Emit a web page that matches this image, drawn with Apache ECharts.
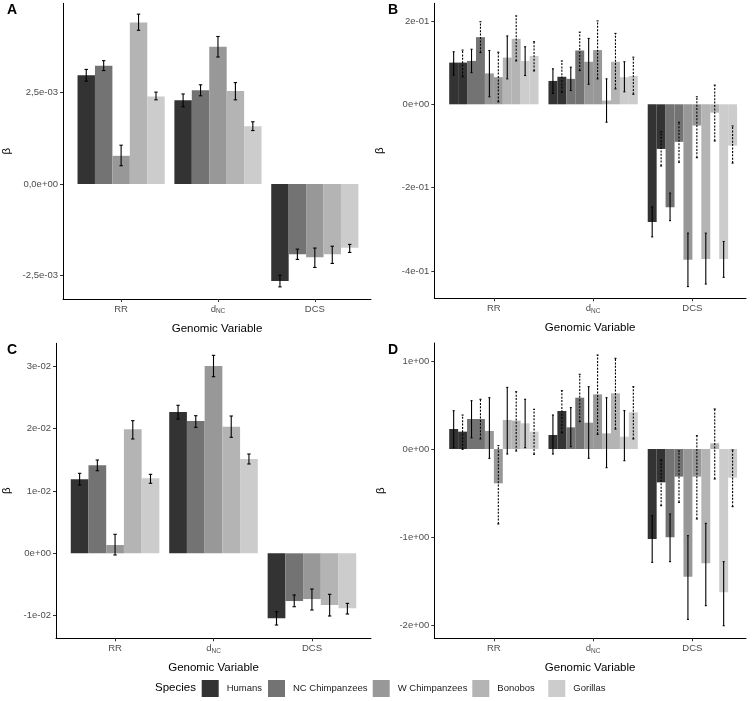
<!DOCTYPE html>
<html><head><meta charset="utf-8">
<script src="https://cdn.jsdelivr.net/npm/echarts@6/dist/echarts.min.js"></script>
<style>html,body{margin:0;padding:0;background:#fff}#c{width:755px;height:701px}</style>
</head><body><div id="c"></div>
<script>
// ---------- data ----------
const categories = ['RR', 'dNC', 'DCS'];
const species = ['Humans', 'NC Chimpanzees', 'W Chimpanzees', 'Bonobos', 'Gorillas'];
const colors = ['#333333', '#737373', '#989898', '#B4B4B4', '#CCCCCC'];

// Panel A  (per species: [RR, dNC, DCS])
const aValue = [[2.97e-3, 2.29e-3, -2.65e-3],[3.23e-3, 2.56e-3, -1.92e-3],[0.77e-3, 3.75e-3, -2.00e-3],[4.41e-3, 2.54e-3, -1.92e-3],[2.39e-3, 1.58e-3, -1.74e-3]];
const aLow   = [[2.81e-3, 2.11e-3, -2.81e-3],[3.10e-3, 2.41e-3, -2.06e-3],[0.50e-3, 3.47e-3, -2.28e-3],[4.20e-3, 2.30e-3, -2.17e-3],[2.30e-3, 1.46e-3, -1.87e-3]];
const aHigh  = [[3.13e-3, 2.46e-3, -2.49e-3],[3.37e-3, 2.71e-3, -1.78e-3],[1.06e-3, 4.03e-3, -1.75e-3],[4.64e-3, 2.77e-3, -1.70e-3],[2.51e-3, 1.70e-3, -1.65e-3]];

// Panel C
const cValue = [[0.01188, 0.02268, -0.01043],[0.01412, 0.02124, -0.00766],[0.00133, 0.03006, -0.00734],[0.0199, 0.02033, -0.0083],[0.01204, 0.01514, -0.00883]];
const cLow   = [[0.01096, 0.02156, -0.01151],[0.01326, 0.02022, -0.00857],[-0.00027, 0.02835, -0.0091],[0.01835, 0.01862, -0.01006],[0.01124, 0.01434, -0.00974]];
const cHigh  = [[0.01284, 0.02376, -0.00937],[0.01498, 0.02209, -0.00669],[0.00305, 0.03178, -0.00573],[0.02129, 0.02204, -0.00658],[0.01268, 0.01594, -0.00803]];

// Panel B  (solid = first estimate, dotted = second estimate)
const bSolid     = [[0.100, 0.056, -0.282],[0.104, 0.061, -0.247],[0.074, 0.102, -0.373],[0.112, 0.009, -0.371],[0.104, 0.065, -0.371]];
const bSolidLow  = [[0.070, 0.026, -0.318],[0.076, 0.033, -0.279],[0.018, 0.048, -0.437],[0.061, -0.043, -0.431],[0.069, 0.030, -0.415]];
const bSolidHigh = [[0.126, 0.085, -0.246],[0.132, 0.089, -0.213],[0.129, 0.158, -0.309],[0.164, 0.061, -0.309],[0.138, 0.102, -0.329]];
const bDot       = [[0.100, 0.066, -0.107],[0.161, 0.129, -0.090],[0.065, 0.130, -0.051],[0.157, 0.102, -0.020],[0.116, 0.068, -0.099]];
const bDotLow    = [[0.066, 0.029, -0.148],[0.124, 0.081, -0.139],[0.006, 0.061, -0.128],[0.104, 0.037, -0.088],[0.080, 0.024, -0.141]];
const bDotHigh   = [[0.130, 0.104, -0.066],[0.198, 0.173, -0.043],[0.125, 0.200, 0.018],[0.212, 0.170, 0.046],[0.150, 0.113, -0.052]];

// Panel D
const dSolid     = [[0.227, 0.159, -1.023],[0.341, 0.246, -1.004],[0.205, 0.299, -1.451],[0.330, 0.178, -1.299],[0.292, 0.140, -1.629]];
const dSolidLow  = [[0.015, -0.057, -1.288],[0.128, 0.026, -1.280],[-0.106, -0.106, -1.936],[-0.057, -0.212, -1.780],[0.015, -0.133, -2.008]];
const dSolidHigh = [[0.435, 0.386, -0.758],[0.549, 0.470, -0.739],[0.583, 0.708, -0.985],[0.700, 0.583, -0.845],[0.565, 0.436, -1.280]];
const dDot       = [[0.197, 0.432, -0.379],[0.341, 0.583, -0.314],[-0.390, 0.621, -0.314],[0.322, 0.633, 0.064],[0.197, 0.417, -0.326]];
const dDotLow    = [[-0.004, 0.185, -0.644],[0.114, 0.311, -0.606],[-0.852, 0.167, -0.795],[-0.023, 0.227, -0.341],[-0.060, 0.114, -0.655]];
const dDotHigh   = [[0.386, 0.663, -0.125],[0.565, 0.849, -0.023],[0.038, 1.068, 0.152],[0.651, 1.030, 0.455],[0.451, 0.708, -0.011]];

// tick values / labels
const aTicks = [-2.5e-3, 0, 2.5e-3];
const aTickLabels = ['-2,5e-03', '0,0e+00', '2,5e-03'];
const bTicks = [-0.4, -0.2, 0, 0.2];
const bTickLabels = ['-4e-01', '-2e-01', '0e+00', '2e-01'];
const cTicks = [-0.01, 0, 0.01, 0.02, 0.03];
const cTickLabels = ['-1e-02', '0e+00', '1e-02', '2e-02', '3e-02'];
const dTicks = [-2, -1, 0, 1];
const dTickLabels = ['-2e+00', '-1e+00', '0e+00', '1e+00'];
const panelLetters = ['A', 'B', 'C', 'D'];

// ---------- layout ----------
const FONT = 'Liberation Sans, Arial, sans-serif';
const SLOT = 0.18; // dodge width 0.9 / 5
const panels = [
  {left: 61.7, top: 3.3, right: 371, bottom: 299, xmin: 0.4, xmax: 3.58, ymin: -3.142e-3, ymax: 4.937e-3, ticks: aTicks, labels: aTickLabels, nameGap: 50, letterX: 7, letterY: 3},
  {left: 434.3, top: 3.3, right: 746, bottom: 298.3, xmin: 0.4, xmax: 3.54, ymin: -0.4652, ymax: 0.2422, ticks: bTicks, labels: bTickLabels, nameGap: 48, letterX: 388, letterY: 3},
  {left: 53.3, top: 343.3, right: 371, bottom: 638.3, xmin: 0.4, xmax: 3.6, ymin: -0.01364, ymax: 0.03371, ticks: cTicks, labels: cTickLabels, nameGap: 43, letterX: 7, letterY: 343},
  {left: 434.3, top: 343, right: 746, bottom: 638.3, xmin: 0.4, xmax: 3.54, ymin: -2.151, ymax: 1.2045, ticks: dTicks, labels: dTickLabels, nameGap: 47, letterX: 388, letterY: 343}
];
const legendLefts = [201.7, 268, 372.7, 472.3, 548.3];

const grids = [], xAxes = [], yAxes = [], series = [], graphics = [];
const xLabelMap = {1: '{a|RR}', 2: '{a|d}{s|NC}', 3: '{a|DCS}'};

panels.forEach((p, i) => {
  grids.push({left: p.left, top: p.top, width: p.right - p.left, height: p.bottom - p.top, containLabel: false});
  xAxes.push({
    type: 'value', gridIndex: i, min: p.xmin, max: p.xmax,
    splitLine: {show: false},
    axisLine: {show: true, onZero: false, lineStyle: {color: '#000', width: 1}},
    axisTick: {show: true, customValues: [1, 2, 3], length: 3, lineStyle: {color: '#333'}},
    axisLabel: {customValues: [1, 2, 3], margin: 4, formatter: v => xLabelMap[Math.round(v)] || '',
      rich: {a: {fontFamily: FONT, fontSize: 9.5, color: '#4D4D4D', lineHeight: 12},
             s: {fontFamily: FONT, fontSize: 6.5, color: '#4D4D4D', lineHeight: 9, verticalAlign: 'bottom'}}},
    name: 'Genomic Variable', nameLocation: 'middle', nameGap: 24,
    nameTextStyle: {fontFamily: FONT, fontSize: 11.5, color: '#000'}
  });
  yAxes.push({
    type: 'value', gridIndex: i, min: p.ymin, max: p.ymax,
    splitLine: {show: false},
    axisLine: {show: true, onZero: false, lineStyle: {color: '#000', width: 1}},
    axisTick: {show: true, customValues: p.ticks, length: 3, lineStyle: {color: '#333'}},
    axisLabel: {customValues: p.ticks, margin: 5, fontFamily: FONT, fontSize: 9.5, color: '#4D4D4D',
      formatter: v => { const k = p.ticks.findIndex(t => Math.abs(t - v) < 1e-9); return k >= 0 ? p.labels[k] : ''; }},
    name: 'β', nameLocation: 'middle', nameGap: p.nameGap, nameRotate: 90,
    nameTextStyle: {fontFamily: FONT, fontSize: 11.5, color: '#000'}
  });
  graphics.push({type: 'text', left: p.letterX, top: p.letterY, style: {text: panelLetters[i], font: 'bold 14px ' + FONT, fill: '#000'}});
});

function rectBetween(api, x0, x1, v) {
  const a = api.coord([x0, 0]);
  const b = api.coord([x1, v]);
  return {type: 'rect', shape: {x: a[0], y: Math.min(a[1], b[1]), width: b[0] - a[0], height: Math.abs(b[1] - a[1])}};
}

// single bars (panels A, C)
function singleBars(gi, values) {
  species.forEach((name, s) => {
    series.push({
      type: 'custom', name: name, xAxisIndex: gi, yAxisIndex: gi, z: 2,
      itemStyle: {color: colors[s]},
      data: categories.map((c, k) => [k + 1, values[s][k]]),
      renderItem: (params, api) => {
        const x = api.value(0) + (s - 2) * SLOT;
        const r = rectBetween(api, x - SLOT / 2, x + SLOT / 2, api.value(1));
        r.style = {fill: colors[s]};
        return r;
      }
    });
  });
}
// split bars (panels B, D)
function splitBars(gi, v1, v2) {
  species.forEach((name, s) => {
    series.push({
      type: 'custom', name: name, xAxisIndex: gi, yAxisIndex: gi, z: 2,
      itemStyle: {color: colors[s]},
      data: categories.map((c, k) => [k + 1, v1[s][k], v2[s][k]]),
      renderItem: (params, api) => {
        const x = api.value(0) + (s - 2) * SLOT;
        const r1 = rectBetween(api, x - SLOT / 2, x, api.value(1));
        const r2 = rectBetween(api, x, x + SLOT / 2, api.value(2));
        r1.style = {fill: colors[s]};
        r2.style = {fill: colors[s]};
        return {type: 'group', children: [r1, r2]};
      }
    });
  });
}
// error bars: data [cat, speciesIdx, halfOffset(-1,0,1), lo, hi, dashed]
function errorSeries(gi, items, capPx) {
  series.push({
    type: 'custom', name: 'err' + gi, xAxisIndex: gi, yAxisIndex: gi, z: 5,
    data: items,
    renderItem: (params, api) => {
      const x = api.value(0) + (api.value(1) - 2) * SLOT + api.value(2) * SLOT / 4;
      const lo = api.coord([x, api.value(3)]);
      const hi = api.coord([x, api.value(4)]);
      const dashed = api.value(5) === 1;
      const st = {stroke: '#000', lineWidth: 1.1, lineDash: dashed ? [2, 1.4] : null};
      const cx = lo[0];
      return {type: 'group', children: [
        {type: 'line', shape: {x1: cx, y1: lo[1], x2: cx, y2: hi[1]}, style: st},
        {type: 'line', shape: {x1: cx - capPx, y1: lo[1], x2: cx + capPx, y2: lo[1]}, style: {stroke: '#000', lineWidth: 1.1}},
        {type: 'line', shape: {x1: cx - capPx, y1: hi[1], x2: cx + capPx, y2: hi[1]}, style: {stroke: '#000', lineWidth: 1.1}}
      ]};
    }
  });
}
function singleErr(lo, hi) {
  const out = [];
  species.forEach((n, s) => categories.forEach((c, k) => out.push([k + 1, s, 0, lo[s][k], hi[s][k], 0])));
  return out;
}
function splitErr(lo1, hi1, lo2, hi2) {
  const out = [];
  species.forEach((n, s) => categories.forEach((c, k) => {
    out.push([k + 1, s, -1, lo1[s][k], hi1[s][k], 0]);
    out.push([k + 1, s, 1, lo2[s][k], hi2[s][k], 1]);
  }));
  return out;
}

singleBars(0, aValue);
errorSeries(0, singleErr(aLow, aHigh), 1.7);
splitBars(1, bSolid, bDot);
errorSeries(1, splitErr(bSolidLow, bSolidHigh, bDotLow, bDotHigh), 1);
singleBars(2, cValue);
errorSeries(2, singleErr(cLow, cHigh), 1.7);
splitBars(3, dSolid, dDot);
errorSeries(3, splitErr(dSolidLow, dSolidHigh, dDotLow, dDotHigh), 1);

graphics.push({type: 'text', left: 155, top: 682, style: {text: 'Species', font: '11.5px ' + FONT, fill: '#000'}});

const legends = species.map((name, s) => ({
  data: [name], left: legendLefts[s], top: 680, icon: 'rect', itemWidth: 17, itemHeight: 17,
  padding: 0, selectedMode: false,
  textStyle: {fontFamily: FONT, fontSize: 9.5, color: '#1A1A1A', padding: [0, 0, 0, 3]}
}));

const chart = echarts.init(document.getElementById('c'), null, {renderer: 'canvas'});
chart.setOption({
  animation: false,
  backgroundColor: '#fff',
  grid: grids, xAxis: xAxes, yAxis: yAxes, series: series, graphic: graphics,
  legend: legends
});
</script></body></html>
